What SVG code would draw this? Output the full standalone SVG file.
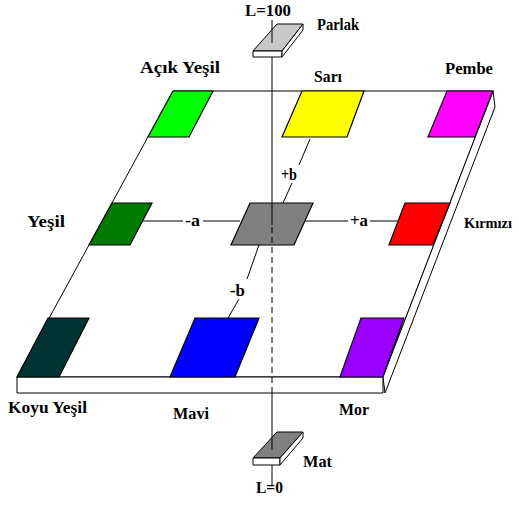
<svg xmlns="http://www.w3.org/2000/svg" width="519" height="511" viewBox="0 0 519 511">
  <style>
    .edge { fill: #ffffff; stroke: #000000; stroke-width: 1; stroke-linejoin: miter; }
    .sw { stroke: #000000; stroke-width: 1.2; }
    .ln { stroke: #000000; stroke-width: 1; fill: none; }
    .dash { stroke: #000000; stroke-width: 1; fill: none; stroke-dasharray: 6 4; }
    .lbl { font-family: "Liberation Serif", "Times New Roman", "DejaVu Serif", serif; font-weight: bold; font-size: 17px; fill: #000000; }
  </style>
  <rect x="0" y="0" width="519" height="511" fill="#ffffff"/>

  <!-- color plane (slab) -->
  <g id="plane">
    <polygon class="edge" points="173,91 493,91 383,377 17,377"/>
    <polygon class="edge" points="17,377 383,377 383,393 17,393"/>
    <polygon class="edge" points="493,91 495,107 385,393 383,377"/>
  </g>

  <!-- connectors between swatches -->
  <g id="connectors">
    <line class="ln" x1="143" y1="221" x2="183" y2="221"/>
    <line class="ln" x1="203" y1="221" x2="240" y2="221"/>
    <text class="lbl" x="185" y="226" textLength="15" lengthAdjust="spacingAndGlyphs">-a</text>
    <line class="ln" x1="304" y1="221" x2="348" y2="221"/>
    <line class="ln" x1="370" y1="221" x2="398" y2="221"/>
    <text class="lbl" x="350" y="226" textLength="18" lengthAdjust="spacingAndGlyphs">+a</text>
    <line class="ln" x1="310" y1="139" x2="299" y2="165"/>
    <line class="ln" x1="292" y1="183" x2="283" y2="203"/>
    <text class="lbl" x="281" y="180" textLength="16" lengthAdjust="spacingAndGlyphs">+b</text>
    <line class="ln" x1="259" y1="245" x2="247" y2="279"/>
    <line class="ln" x1="239" y1="299" x2="228" y2="318"/>
    <text class="lbl" x="230" y="296" textLength="15" lengthAdjust="spacingAndGlyphs">-b</text>
  </g>

  <!-- swatches -->
  <g id="acik-yesil">
    <polygon class="sw" fill="#00ff00" points="173,91 213,91 189,137 148,137"/>
    <text class="lbl" x="140" y="73" textLength="80" lengthAdjust="spacingAndGlyphs">Açık Yeşil</text>
  </g>
  <g id="sari">
    <polygon class="sw" fill="#ffff00" points="302,91 364,91 347,137 282,137"/>
    <text class="lbl" x="314" y="82" textLength="28" lengthAdjust="spacingAndGlyphs">Sarı</text>
  </g>
  <g id="pembe">
    <polygon class="sw" fill="#ff00ff" points="447,91 493,91 475,137 428,137"/>
    <text class="lbl" x="445" y="74" textLength="48" lengthAdjust="spacingAndGlyphs">Pembe</text>
  </g>
  <g id="yesil">
    <polygon class="sw" fill="#007a00" points="112,203 152,203 130,245 89,245"/>
    <text class="lbl" x="27" y="227" textLength="38" lengthAdjust="spacingAndGlyphs">Yeşil</text>
  </g>
  <g id="gri">
    <polygon class="sw" fill="#808080" points="250,203 313,203 294,245 231,245"/>
  </g>
  <g id="kirmizi">
    <polygon class="sw" fill="#ff0000" points="405,203 450,203 433,245 389,245"/>
    <text class="lbl" x="464" y="228" style="font-size:15px" textLength="48" lengthAdjust="spacingAndGlyphs">Kırmızı</text>
  </g>
  <g id="koyu-yesil">
    <polygon class="sw" fill="#003333" points="48,318 89,318 59,377 17,377"/>
    <text class="lbl" x="8" y="413" textLength="79" lengthAdjust="spacingAndGlyphs">Koyu Yeşil</text>
  </g>
  <g id="mavi">
    <polygon class="sw" fill="#0000ff" points="195,318 259,318 235,377 170,377"/>
    <text class="lbl" x="173" y="419" textLength="36" lengthAdjust="spacingAndGlyphs">Mavi</text>
  </g>
  <g id="mor">
    <polygon class="sw" fill="#9900ff" points="361,318 404,318 383,377 340,377"/>
    <text class="lbl" x="339" y="415" textLength="30" lengthAdjust="spacingAndGlyphs">Mor</text>
  </g>

  <!-- lightness axis -->
  <g id="axis">
    <line class="ln" x1="272" y1="57" x2="272" y2="225"/>
    <line class="dash" x1="272" y1="227" x2="272" y2="393"/>
    <line class="ln" x1="272" y1="393" x2="272" y2="432"/>
    <line class="ln" x1="272" y1="465" x2="272" y2="486"/>
  </g>

  <!-- bright end of the axis -->
  <g id="parlak">
    <polygon class="edge" points="277,24 303,24 282,51 253,51" style="fill:#c8c8c8"/>
    <polygon class="edge" points="253,51 282,51 282,57 253,57"/>
    <polygon class="edge" points="303,24 303,30 282,57 282,51"/>
    <line class="ln" x1="272" y1="20" x2="272" y2="43"/>
    <text class="lbl" x="245" y="16" textLength="46" lengthAdjust="spacingAndGlyphs">L=100</text>
    <text class="lbl" x="317" y="30" textLength="42" lengthAdjust="spacingAndGlyphs">Parlak</text>
  </g>

  <!-- dark end of the axis -->
  <g id="mat">
    <polygon class="edge" points="277,432 303,432 280,458 253,458" style="fill:#808080"/>
    <polygon class="edge" points="253,458 280,458 280,465 253,465"/>
    <polygon class="edge" points="303,432 303,438 280,465 280,458"/>
    <line class="ln" x1="272" y1="432" x2="272" y2="450"/>
    <text class="lbl" x="303" y="467" textLength="29" lengthAdjust="spacingAndGlyphs">Mat</text>
    <text class="lbl" x="256" y="493" textLength="27" lengthAdjust="spacingAndGlyphs">L=0</text>
  </g>
</svg>
